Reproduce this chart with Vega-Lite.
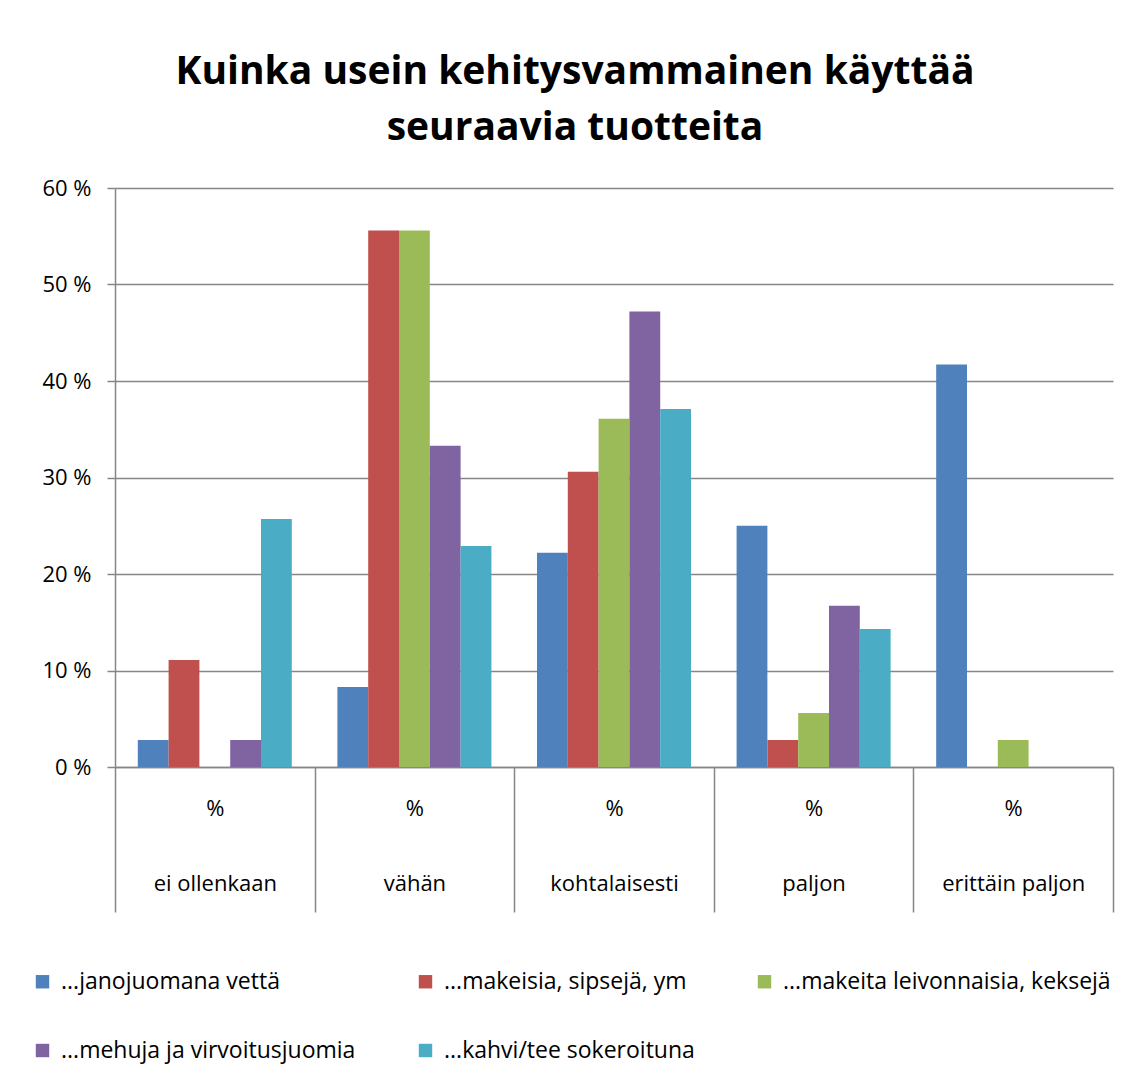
{
  "$schema": "https://vega.github.io/schema/vega-lite/v6.json",
  "autosize": "none",
  "width": 998,
  "height": 579,
  "padding": {"left": 115, "top": 188, "right": 17, "bottom": 308},
  "background": "white",
  "title": {
    "text": ["Kuinka usein kehitysvammainen käyttää", "seuraavia tuotteita"],
    "font": "Open Sans",
    "fontSize": 39,
    "fontWeight": "bold",
    "color": "#000000",
    "lineHeight": 56,
    "anchor": "middle",
    "dx": -39,
    "offset": 29
  },
  "config": {
    "view": {"stroke": null},
    "font": "Open Sans"
  },
  "data": {
    "values": [
      {"luokka": "ei ollenkaan", "tuote": "...janojuomana vettä", "osuus": 2.8},
      {"luokka": "ei ollenkaan", "tuote": "...makeisia, sipsejä, ym", "osuus": 11.1},
      {"luokka": "ei ollenkaan", "tuote": "...mehuja ja virvoitusjuomia", "osuus": 2.8},
      {"luokka": "ei ollenkaan", "tuote": "...kahvi/tee sokeroituna", "osuus": 25.7},
      {"luokka": "vähän", "tuote": "...janojuomana vettä", "osuus": 8.3},
      {"luokka": "vähän", "tuote": "...makeisia, sipsejä, ym", "osuus": 55.6},
      {"luokka": "vähän", "tuote": "...makeita leivonnaisia, keksejä", "osuus": 55.6},
      {"luokka": "vähän", "tuote": "...mehuja ja virvoitusjuomia", "osuus": 33.3},
      {"luokka": "vähän", "tuote": "...kahvi/tee sokeroituna", "osuus": 22.9},
      {"luokka": "kohtalaisesti", "tuote": "...janojuomana vettä", "osuus": 22.2},
      {"luokka": "kohtalaisesti", "tuote": "...makeisia, sipsejä, ym", "osuus": 30.6},
      {"luokka": "kohtalaisesti", "tuote": "...makeita leivonnaisia, keksejä", "osuus": 36.1},
      {"luokka": "kohtalaisesti", "tuote": "...mehuja ja virvoitusjuomia", "osuus": 47.2},
      {"luokka": "kohtalaisesti", "tuote": "...kahvi/tee sokeroituna", "osuus": 37.1},
      {"luokka": "paljon", "tuote": "...janojuomana vettä", "osuus": 25.0},
      {"luokka": "paljon", "tuote": "...makeisia, sipsejä, ym", "osuus": 2.8},
      {"luokka": "paljon", "tuote": "...makeita leivonnaisia, keksejä", "osuus": 5.6},
      {"luokka": "paljon", "tuote": "...mehuja ja virvoitusjuomia", "osuus": 16.7},
      {"luokka": "paljon", "tuote": "...kahvi/tee sokeroituna", "osuus": 14.3},
      {"luokka": "erittäin paljon", "tuote": "...janojuomana vettä", "osuus": 41.7},
      {"luokka": "erittäin paljon", "tuote": "...makeita leivonnaisia, keksejä", "osuus": 2.8}
    ]
  },
  "mark": {"type": "bar"},
  "encoding": {
    "x": {
      "field": "luokka",
      "type": "nominal",
      "sort": ["ei ollenkaan", "vähän", "kohtalaisesti", "paljon", "erittäin paljon"],
      "scale": {"paddingInner": 0, "paddingOuter": 0},
      "axis": {
        "title": null,
        "labelAngle": 0,
        "labelExpr": "datum.label ? ['%', datum.label] : ''",
        "labelLineHeight": 75,
        "labelBaseline": "top",
        "labelPadding": -114,
        "labelFont": "Open Sans",
        "labelFontSize": 22,
        "labelColor": "#000000",
        "tickBand": "extent",
        "tickSize": 145,
        "tickColor": "#868686",
        "tickWidth": 1.5,
        "domainColor": "#868686",
        "domainWidth": 1.5,
        "grid": false
      }
    },
    "xOffset": {
      "field": "tuote",
      "type": "nominal",
      "sort": ["...janojuomana vettä", "...makeisia, sipsejä, ym", "...makeita leivonnaisia, keksejä", "...mehuja ja virvoitusjuomia", "...kahvi/tee sokeroituna"],
      "scale": {
        "domain": ["...janojuomana vettä", "...makeisia, sipsejä, ym", "...makeita leivonnaisia, keksejä", "...mehuja ja virvoitusjuomia", "...kahvi/tee sokeroituna"],
        "paddingInner": 0,
        "paddingOuter": 0.74
      }
    },
    "y": {
      "field": "osuus",
      "type": "quantitative",
      "scale": {"domain": [0, 60], "nice": false},
      "axis": {
        "title": null,
        "values": [0, 10, 20, 30, 40, 50, 60],
        "labelExpr": "datum.value + ' %'",
        "labelFont": "Open Sans",
        "labelFontSize": 22,
        "labelColor": "#000000",
        "labelPadding": 16,
        "tickSize": 8,
        "tickColor": "#868686",
        "tickWidth": 1.5,
        "domainColor": "#868686",
        "domainWidth": 1.5,
        "grid": true,
        "gridColor": "#868686",
        "gridWidth": 1.5
      }
    },
    "color": {
      "field": "tuote",
      "type": "nominal",
      "scale": {
        "domain": ["...janojuomana vettä", "...makeisia, sipsejä, ym", "...makeita leivonnaisia, keksejä", "...mehuja ja virvoitusjuomia", "...kahvi/tee sokeroituna"],
        "range": ["#4F81BD", "#C0504D", "#9BBB59", "#8064A2", "#4BACC6"]
      },
      "legend": {
        "title": null,
        "orient": "none",
        "legendX": -84,
        "legendY": 782,
        "direction": "horizontal",
        "columns": 3,
        "gridAlign": "each",
        "columnPadding": 58,
        "rowPadding": 45,
        "symbolType": "square",
        "symbolSize": 180,
        "symbolStrokeWidth": 0,
        "labelFont": "Open Sans",
        "labelFontSize": 23,
        "labelColor": "#000000",
        "labelLimit": 0,
        "labelOffset": 7
      }
    }
  }
}
